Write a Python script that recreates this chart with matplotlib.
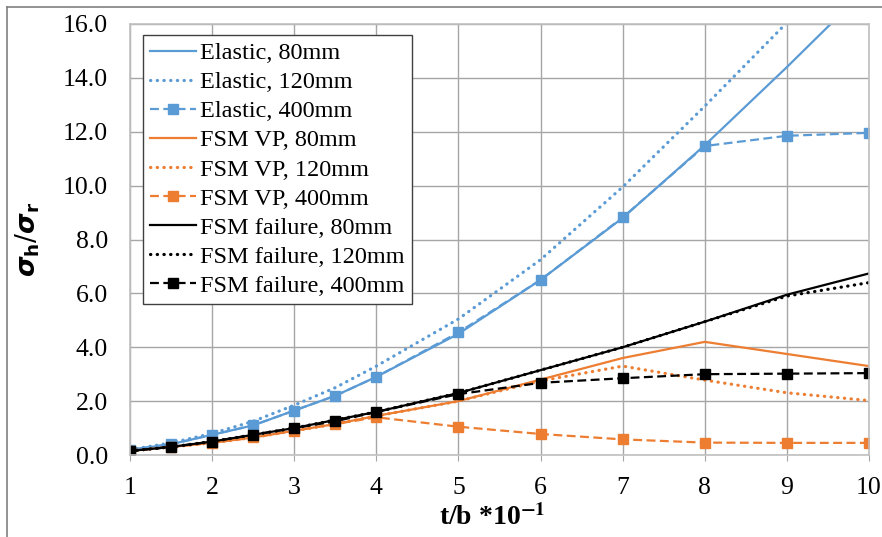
import matplotlib
matplotlib.use("Agg")
import matplotlib.pyplot as plt
from matplotlib.lines import Line2D

plt.rcParams['font.family'] = ['Liberation Serif', 'DejaVu Serif']
plt.rcParams['mathtext.fontset'] = 'stix'

# t/b * 10^-1
x = [1, 1.5, 2, 2.5, 3, 3.5, 4, 5, 6, 7, 8, 9, 10]

# sigma_h / sigma_r
elastic_80 = [0.2, 0.4, 0.75, 1.1, 1.65, 2.2, 2.9, 4.5, 6.5, 8.8, 11.5, 14.4, 17.4]
elastic_120 = [0.2, 0.45, 0.8, 1.25, 1.85, 2.5, 3.3, 5.05, 7.25, 9.95, 12.95, 16.05, 19.3]
elastic_400 = [0.2, 0.4, 0.75, 1.1, 1.65, 2.2, 2.9, 4.55, 6.5, 8.82, 11.47, 11.85, 11.96]
vp_80 = [0.15, 0.3, 0.45, 0.65, 0.9, 1.15, 1.45, 2.0, 2.8, 3.6, 4.2, 3.75, 3.3]
vp_120 = [0.15, 0.3, 0.45, 0.65, 0.9, 1.15, 1.45, 2.0, 2.75, 3.3, 2.78, 2.31, 2.02]
vp_400 = [0.15, 0.3, 0.45, 0.65, 0.9, 1.15, 1.4, 1.05, 0.78, 0.58, 0.46, 0.45, 0.45]
fail_80 = [0.15, 0.3, 0.5, 0.75, 1.0, 1.3, 1.6, 2.3, 3.15, 4.0, 4.95, 5.95, 6.74]
fail_120 = [0.15, 0.3, 0.5, 0.75, 1.0, 1.3, 1.6, 2.3, 3.15, 4.0, 4.95, 5.9, 6.4]
fail_400 = [0.15, 0.3, 0.5, 0.75, 1.0, 1.25, 1.6, 2.26, 2.68, 2.85, 3.0, 3.02, 3.04]

labels = ['Elastic, 80mm', 'Elastic, 120mm', 'Elastic, 400mm',
          'FSM VP, 80mm', 'FSM VP, 120mm', 'FSM VP, 400mm',
          'FSM failure, 80mm', 'FSM failure, 120mm', 'FSM failure, 400mm']

blue = '#5B9BD5'
orange = '#ED7D31'
black = '#000000'

fig = plt.figure(figsize=(8.82, 5.37), dpi=100)
ax = fig.add_axes([130 / 882, 1 - 455 / 537, 739 / 882, 431 / 537])

dot = dict(linestyle=(0, (0.1, 2.0)), dash_capstyle='round', linewidth=2.3)
dash = dict(linestyle=(0, (4, 2)), linewidth=1.6, marker='s', markersize=7)

ax.plot(x, elastic_80, color=blue, lw=1.6, label=labels[0])
ax.plot(x, elastic_120, color=blue, label=labels[1], **dot)
ax.plot(x, elastic_400, color=blue, label=labels[2], **dash)
ax.plot(x, vp_80, color=orange, lw=1.6, label=labels[3])
ax.plot(x, vp_120, color=orange, label=labels[4], **dot)
ax.plot(x, vp_400, color=orange, label=labels[5], **dash)
ax.plot(x, fail_80, color=black, lw=1.6, label=labels[6])
ax.plot(x, fail_120, color=black, label=labels[7], **dot)
ax.plot(x, fail_400, color=black, label=labels[8], **dash)

ax.set_xlim(1, 10)
ax.set_ylim(0, 16)
ax.set_xticks(range(1, 11))
ax.set_yticks([0, 2, 4, 6, 8, 10, 12, 14, 16])
ax.set_yticklabels(['%.1f' % v for v in ax.get_yticks()])
ax.tick_params(axis='both', labelsize=18.5, colors='#000000')
ax.tick_params(axis='y', length=0, pad=16)
ax.tick_params(axis='x', length=4, pad=12, color='#A6A6A6')
ax.grid(True, color='#A6A6A6', linewidth=1)
ax.set_axisbelow(True)
for s in ax.spines.values():
    s.set_color('#C0C0C0')
    s.set_linewidth(1.2)

ax.set_ylabel(r'$\boldsymbol{\sigma}_\mathbf{h}/\boldsymbol{\sigma}_\mathbf{r}$',
              fontsize=19, math_fontfamily='dejavusans')
ax.yaxis.set_label_coords(-0.119, 0.5)
ax.set_xlabel(r't/b *10$^{\mathbf{-1}}$', fontsize=20, fontweight='bold')
ax.xaxis.set_label_coords(0.49, -0.115)

leg = ax.legend(loc='upper left', bbox_to_anchor=(13 / 739, 1 - 11 / 431),
                fontsize=17.5, handlelength=1.9, handletextpad=0.15,
                labelspacing=0.29, borderpad=0.3, borderaxespad=0,
                fancybox=False, framealpha=1)
leg.get_frame().set_edgecolor('#404040')
leg.get_frame().set_linewidth(1.0)

# outer frame of the figure
fig.add_artist(Line2D([7 / 882, 7 / 882], [0, 1 - 7 / 537], color='#808080', lw=1.2))
fig.add_artist(Line2D([7 / 882, 1], [1 - 7 / 537, 1 - 7 / 537], color='#808080', lw=1.2))

fig.savefig('out.png', dpi=100)
